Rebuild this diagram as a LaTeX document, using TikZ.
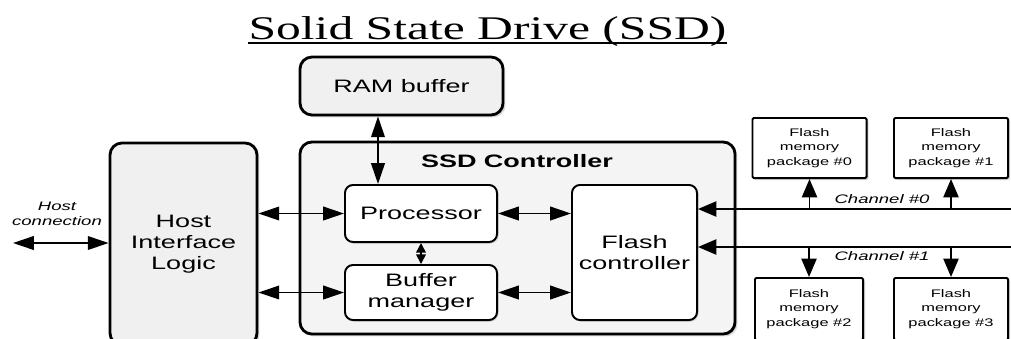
\documentclass[tikz,border=0pt]{standalone}
\usepackage{fontspec}
\setmainfont{Liberation Sans}[FakeStretch=1.5]
\newfontfamily\titlefont{Liberation Serif}[FakeStretch=1.5]
\usetikzlibrary{shapes,arrows.meta,shadows}
\tikzset{
    outer/.style={rectangle, draw, line width=2pt, fill=gray!12, rounded corners=0.3cm, align=center, font=\fontsize{12.8}{15}\selectfont, drop shadow={opacity=0.3, shadow xshift=0.6mm, shadow yshift=-0.6mm}},
    block/.style={rectangle, draw, line width=1.4pt, fill=white, rounded corners=0.2cm, align=center, font=\fontsize{12.8}{15}\selectfont, drop shadow={opacity=0.25, shadow xshift=0.4mm, shadow yshift=-0.4mm}},
    pkg/.style={rectangle, draw, line width=1.4pt, fill=white, rounded corners=0.3mm, align=center, minimum width=2.85cm, minimum height=1.5cm, font=\fontsize{7.8}{10.3}\selectfont, drop shadow={opacity=0.3, shadow xshift=0.5mm, shadow yshift=-0.5mm}},
    line/.style={draw, {Triangle[length=5.2mm,width=3.4mm]}-{Triangle[length=5.2mm,width=3.4mm]}, line width=1.3pt},
    shortline/.style={draw, {Triangle[length=2.4mm,width=2.4mm]}-{Triangle[length=2.4mm,width=2.4mm]}, line width=1.1pt},
    bus/.style={draw, -{Triangle[length=4.6mm,width=3.8mm]}, line width=1.3pt},
    tag/.style={font=\fontsize{8.8}{10.7}\selectfont\itshape, align=center}
}
\begin{document}
\begin{tikzpicture}[x=0.025cm, y=-0.025cm]
    \path[use as bounding box, clip] (0,0) rectangle (1011,338);
    % Title
    \node[anchor=base, inner sep=0pt, font=\titlefont\fontsize{23.5}{28}\selectfont] (title) at (487.5,39) {Solid State Drive (SSD)};
    \draw[line width=0.9pt] ([yshift=-0.1cm]title.base west) -- ([yshift=-0.1cm]title.base east);
    % Host side
    \node[outer, minimum width=3.675cm, minimum height=5.05cm] (host) at (183.5,244) {Host\\Interface\\Logic};
    \node[tag] (hostlbl) at (57,214) {Host\\connection};
    \coordinate (hostend) at (13,243);
    % RAM buffer
    \node[outer, minimum width=5.075cm, minimum height=1.45cm] (ram) at (401.5,86) {RAM buffer};
    % SSD Controller
    \node[outer, fill=gray!9, minimum width=10.875cm, minimum height=4.8cm] (ctrl) at (517.5,238) {};
    \node[font=\fontsize{12.8}{15}\selectfont\bfseries] (ctrltitle) at (517,161) {SSD Controller};
    \node[block, minimum width=3.8cm, minimum height=1.425cm] (proc) at (421,213.5) {Processor};
    \node[block, minimum width=3.8cm, minimum height=1.375cm] (buf) at (421,292.5) {Buffer\\manager};
    \node[block, minimum width=3.125cm, minimum height=3.375cm] (flash) at (634.5,252.5) {Flash\\controller};
    % Flash memory packages
    \node[pkg] (pkg0) at (809.5,148) {Flash\\memory\\package \#0};
    \node[pkg] (pkg1) at (951,148) {Flash\\memory\\package \#1};
    \node[pkg, minimum width=2.7cm, minimum height=1.55cm] (pkg2) at (809,309) {Flash\\memory\\package \#2};
    \node[pkg, minimum height=1.55cm] (pkg3) at (951,309) {Flash\\memory\\package \#3};
    % Channels
    \coordinate (ch0) at (1011,209);
    \coordinate (ch1) at (1011,247);
    \node[tag] (ch0lbl) at (882,199) {Channel \#0};
    \node[tag] (ch1lbl) at (882,256) {Channel \#1};

    \draw[line] (hostend) -- (hostend -| host.west);
    \draw[line] (host.east |- proc.west) -- (proc.west);
    \draw[line] (host.east |- buf.west) -- (buf.west);
    \draw[line] ([xshift=-0.5875cm]ram.south) -- ([xshift=-0.5875cm]ram.south |- proc.north);
    \draw[shortline] (proc.south) -- (buf.north);
    \draw[line] (proc.east) -- (proc.east -| flash.west);
    \draw[line] (buf.east) -- (buf.east -| flash.west);
    \draw[bus] (ch0) -- (ch0 -| flash.east);
    \draw[bus] (ch1) -- (ch1 -| flash.east);
    \draw[bus] (pkg0.south |- ch0) -- (pkg0.south);
    \draw[bus] (pkg1.south |- ch0) -- (pkg1.south);
    \draw[bus] (pkg2.north |- ch1) -- (pkg2.north);
    \draw[bus] (pkg3.north |- ch1) -- (pkg3.north);
\end{tikzpicture}
\end{document}
